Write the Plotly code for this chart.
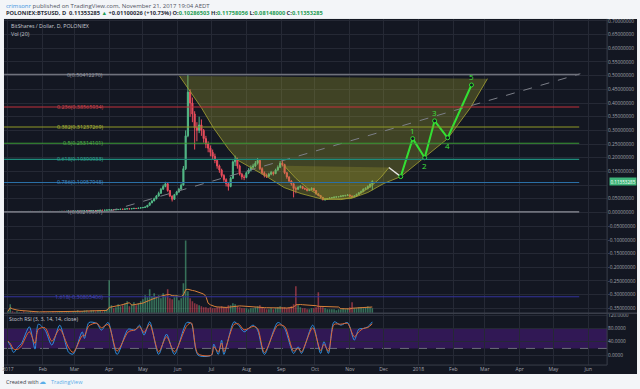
import pandas as pd
import plotly.graph_objects as go

W, H = 640, 389
BASE = pd.Timestamp('2017-01-01')

# ---------------- data ----------------
candle_dates = pd.date_range('2017-01-01', periods=163, freq='2D')
first_open = 0.0034
close = [
 0.0035,0.0036,0.0034,0.0033,0.0035,0.0036,0.0035,0.0034,0.0035,0.0036,
 0.0037,0.0036,0.0035,0.0036,0.0037,0.0038,0.0036,0.0035,0.0036,0.0037,
 0.0036,0.0035,0.0036,0.0038,0.0040,0.0039,0.0041,0.0043,0.0042,0.0044,
 0.0046,0.0048,0.0047,0.0050,0.0055,0.0060,0.0058,0.0065,0.0072,0.0068,
 0.0075,0.0082,0.0078,0.0085,0.0090,0.0095,0.0100,0.0096,0.0105,0.0110,
 0.0120,0.0115,0.0125,0.0135,0.0130,0.0140,0.0150,0.0145,0.0160,0.0170,
 0.0180,0.0200,0.0260,0.0350,0.0420,0.0500,0.0600,0.0700,0.0850,0.0950,
 0.1050,0.0800,0.0600,0.0480,0.0650,0.0750,0.0850,0.1000,0.1600,0.2800,
 0.4400,0.4000,0.3600,0.3100,0.3000,0.3200,0.3000,0.2700,0.2500,0.2350,
 0.2200,0.2050,0.1900,0.1700,0.1550,0.1350,0.1200,0.1050,0.0950,0.1250,
 0.1850,0.1950,0.1700,0.1400,0.1300,0.1280,0.1450,0.1550,0.1650,0.1700,
 0.1800,0.1900,0.1600,0.1450,0.1350,0.1320,0.1400,0.1460,0.1420,0.1550,
 0.1650,0.1800,0.1750,0.1450,0.1300,0.1150,0.1050,0.0880,0.0850,0.0920,
 0.0950,0.0880,0.0860,0.0800,0.0840,0.0880,0.0800,0.0680,0.0620,0.0550,
 0.0470,0.0480,0.0510,0.0530,0.0540,0.0560,0.0570,0.0580,0.0600,0.0610,
 0.0620,0.0640,0.0600,0.0580,0.0600,0.0660,0.0720,0.0760,0.0850,0.0880,
 0.0950,0.1029,0.11353285]
high = [
 0.0037,0.0038,0.0037,0.0035,0.0036,0.0038,0.0037,0.0036,0.0036,0.0037,
 0.0039,0.0038,0.0037,0.0037,0.0038,0.0040,0.0039,0.0037,0.0037,0.0038,
 0.0038,0.0037,0.0037,0.0039,0.0042,0.0041,0.0043,0.0045,0.0044,0.0046,
 0.0048,0.0050,0.0050,0.0052,0.0058,0.0064,0.0062,0.0068,0.0076,0.0074,
 0.0078,0.0086,0.0084,0.0088,0.0095,0.0102,0.0106,0.0103,0.0109,0.0116,
 0.0126,0.0123,0.0130,0.0142,0.0138,0.0146,0.0158,0.0154,0.0166,0.0178,
 0.0190,0.0212,0.0275,0.0370,0.0450,0.0540,0.0640,0.0760,0.0900,0.1020,
 0.1120,0.1080,0.0820,0.0620,0.0680,0.0790,0.0900,0.1060,0.1700,0.3000,
 0.5041,0.4500,0.4200,0.3700,0.3300,0.3500,0.3400,0.3050,0.2800,0.2600,
 0.2450,0.2300,0.2150,0.1950,0.1750,0.1600,0.1400,0.1250,0.1100,0.1300,
 0.1900,0.2080,0.2000,0.1750,0.1450,0.1380,0.1500,0.1620,0.1720,0.1780,
 0.1880,0.1990,0.1950,0.1650,0.1500,0.1420,0.1450,0.1520,0.1500,0.1600,
 0.1720,0.1880,0.1900,0.1780,0.1480,0.1320,0.1180,0.1070,0.0950,0.0960,
 0.1000,0.0970,0.0910,0.0880,0.0870,0.0920,0.0900,0.0820,0.0700,0.0640,
 0.0570,0.0510,0.0530,0.0550,0.0560,0.0580,0.0590,0.0600,0.0620,0.0640,
 0.0650,0.0670,0.0660,0.0620,0.0630,0.0690,0.0750,0.0800,0.0880,0.0920,
 0.0990,0.1060,0.11758056]
low = [
 0.0033,0.0034,0.0033,0.0031,0.0032,0.0034,0.0034,0.0033,0.0033,0.0034,
 0.0035,0.0035,0.0034,0.0034,0.0035,0.0036,0.0035,0.0034,0.0034,0.0035,
 0.0035,0.0034,0.0034,0.0035,0.0037,0.0038,0.0038,0.0040,0.0041,0.0041,
 0.0043,0.0045,0.0046,0.0046,0.0049,0.0054,0.0056,0.0057,0.0064,0.0066,
 0.0067,0.0074,0.0076,0.0077,0.0083,0.0088,0.0093,0.0094,0.0094,0.0103,
 0.0108,0.0112,0.0113,0.0123,0.0127,0.0128,0.0137,0.0142,0.0143,0.0157,
 0.0166,0.0176,0.0195,0.0255,0.0340,0.0410,0.0480,0.0580,0.0680,0.0830,
 0.0920,0.0760,0.0560,0.0400,0.0470,0.0630,0.0720,0.0830,0.0980,0.1550,
 0.2750,0.3500,0.3300,0.2300,0.2600,0.2900,0.2800,0.2550,0.2350,0.2200,
 0.2050,0.1950,0.1800,0.1600,0.1450,0.1280,0.1120,0.0950,0.0800,0.0920,
 0.1220,0.1700,0.1600,0.1350,0.1200,0.1180,0.1250,0.1400,0.1500,0.1600,
 0.1650,0.1750,0.1550,0.1380,0.1280,0.1260,0.1290,0.1360,0.1350,0.1400,
 0.1520,0.1620,0.1680,0.1400,0.1230,0.1100,0.0980,0.0550,0.0700,0.0820,
 0.0880,0.0850,0.0820,0.0770,0.0780,0.0820,0.0780,0.0650,0.0590,0.0520,
 0.0440,0.0430,0.0460,0.0490,0.0510,0.0520,0.0540,0.0550,0.0560,0.0580,
 0.0590,0.0600,0.0570,0.0540,0.0560,0.0580,0.0640,0.0700,0.0740,0.0820,
 0.0840,0.0900,0.08148]
volume = [
 2,9,2,1,2,1,1,2,1,1, 2,1,1,2,1,1,2,1,1,1, 2,1,1,2,2,1,2,2,1,2,
 2,3,2,2,3,3,2,3,3,2, 3,3,2,3,4,
 33,8,5,6,9,7,8,10,12,7, 9,11,8,10,12,
 14,18,16,24,17,20,16,18,15,20, 17,24,15,14,16,18,13,15,
 30,73,22,15,12,10,9,
 8,7,6,6,5,6,5,5,6,6, 7,6,6,8,8,10,9,7,6,5,
 5,5,4,5,5,6,7,8,6,5, 4,4,5,4,5,6,7,6,6,5,
 6,7,9,27,8,6,5,5,4,4, 5,5,6,21,7,6,5,4,4,4,
 4,3,4,4,5,4,5,6,11,5, 5,6,6,5,6,7,6,5]

stoch_dates = ['2017-01-01','2017-01-03','2017-01-06','2017-01-10','2017-01-13','2017-01-20',
 '2017-01-25','2017-01-28','2017-02-03','2017-02-09','2017-02-16','2017-02-24','2017-02-28',
 '2017-03-08','2017-03-10','2017-03-14','2017-03-21','2017-03-25','2017-03-31','2017-04-08',
 '2017-04-18','2017-04-24','2017-04-28','2017-05-02','2017-05-07','2017-05-15','2017-05-22',
 '2017-05-29','2017-06-09','2017-06-13','2017-06-19','2017-07-01','2017-07-03','2017-07-07',
 '2017-07-10','2017-07-12','2017-07-21','2017-07-25','2017-07-30','2017-08-07','2017-08-11',
 '2017-08-17','2017-08-29','2017-09-04','2017-09-12','2017-09-16','2017-09-19','2017-09-29',
 '2017-10-06','2017-10-09','2017-10-13','2017-10-18','2017-10-24','2017-10-30','2017-11-05',
 '2017-11-09','2017-11-13','2017-11-17','2017-11-21']
stoch_k = [40,30,8,25,35,85,18,93,75,30,90,8,3,70,50,98,95,75,98,2,78,75,90,60,100,2,63,2,
 98,95,0,0,33,2,45,2,100,90,70,90,75,2,98,80,5,25,5,90,5,40,5,100,90,98,45,78,80,85,100]
stoch_d = [42,35,18,18,28,70,35,78,82,42,78,22,8,58,58,88,96,82,92,12,70,76,85,68,92,10,55,
 10,88,97,4,0,25,10,36,10,92,94,76,86,80,8,90,86,12,20,10,82,14,32,12,92,93,95,55,70,80,83,94]

fib_ratios = ['0', '0.236', '0.382', '0.5', '0.618', '0.786', '1', '1.618']
fib_prices = [0.50412270, 0.38565934, 0.31237269, 0.25314101, 0.19390933,
              0.10957948, 0.00215951, -0.30805406]
fib_colors = ['#6f727c', '#c2303a', '#8f9a26', '#3b9a34', '#1f8c7c', '#2a6fa6', '#6f727c', '#33339a']
fib_text_colors = ['#9a9da6', '#d84a52', '#b4be3c', '#55b84c', '#30ac98', '#4290cc', '#9a9da6', '#4a4ac0']

# drawings (day offsets from 2017-01-01, prices)
cup_days = [152.5, 163.1, 172.0, 182.6, 195.9, 204.8, 216.3, 231.4, 245.6, 260.6, 281.0,
            305.0, 320.0, 334.2, 349.3, 369.7, 391.0, 411.3, 426.4]
cup_prices = [0.499, 0.434, 0.383, 0.310, 0.233, 0.190, 0.164, 0.128, 0.091, 0.069, 0.047,
              0.051, 0.073, 0.106, 0.131, 0.200, 0.270, 0.383, 0.489]
inner_days = [245.6, 251.0, 256.2, 266.8, 281.0, 296.0, 309.4, 322.7, 331.6, 338.7]
inner_prices = [0.171, 0.145, 0.124, 0.0875, 0.051, 0.047, 0.058, 0.095, 0.128, 0.164]
trend_days = [89.5, 509.0]
trend_prices = [0.004, 0.507]
pullback_days = [338.7, 349.3]
pullback_prices = [0.164, 0.131]
wave_days = [349.3, 359.9, 370.6, 379.4, 391.0, 412.2]
wave_prices = [0.131, 0.270, 0.200, 0.335, 0.273, 0.466]
wave_labels = ['', '1', '2', '3', '4', '5']
wave_label_side = [0, 1, -1, 1, -1, 1]

month_ticks = list(pd.date_range('2017-01-01', '2018-06-01', freq='MS'))
month_text = ['2017', 'Feb', 'Mar', 'Apr', 'May', 'Jun', 'Jul', 'Aug', 'Sep', 'Oct', 'Nov', 'Dec',
              '2018', 'Feb', 'Mar', 'Apr', 'May', 'Jun']
price_ticks = [-0.35, -0.30, -0.25, -0.20, -0.15, -0.10, -0.05, 0.0, 0.05, 0.10, 0.15, 0.20,
               0.25, 0.30, 0.35, 0.40, 0.45, 0.50, 0.55, 0.60, 0.65, 0.70]
stoch_ticks = [0, 40, 80, 120]
last_price = 0.11353285

# ---------------- helpers ----------------
def day(d):
    return BASE + pd.Timedelta(days=d)

def px(x):
    return x / W

def py(y):
    return 1 - y / H

GREEN = '#53b987'
RED = '#eb4d5c'
BG = '#131722'
GRID = '#252935'
AX = '#a3a6af'
FONT = 'Open Sans'

opens = [first_open] + close[:-1]
vol_colors = ['rgba(83,185,135,0.55)' if c >= o else 'rgba(235,77,92,0.55)'
              for o, c in zip(opens, close)]
vol_ma = pd.Series(volume).rolling(10, min_periods=1).mean()

# price labels: the last-price tag covers the 0.10 label, as in the reference
price_text = ['' if abs(t - 0.10) < 1e-9 else '%.8f' % t for t in price_ticks]

x_range = [day(-3.55), day(532.8)]

fig = go.Figure()

fig.add_trace(go.Candlestick(
    x=candle_dates, open=opens, high=high, low=low, close=close,
    increasing=dict(line=dict(color=GREEN, width=1), fillcolor=GREEN),
    decreasing=dict(line=dict(color=RED, width=1), fillcolor=RED),
    xaxis='x', yaxis='y', showlegend=False, hoverinfo='skip'))

# cups
fig.add_trace(go.Scatter(
    x=[day(d) for d in cup_days], y=cup_prices, mode='lines', fill='toself',
    fillcolor='rgba(170,168,45,0.30)', line=dict(color='rgba(160,158,50,0.85)', width=1),
    xaxis='x', yaxis='y', showlegend=False, hoverinfo='skip'))
fig.add_trace(go.Scatter(
    x=[day(d) for d in inner_days], y=inner_prices, mode='lines', fill='toself',
    fillcolor='rgba(170,168,45,0.26)', line=dict(color='rgba(160,158,50,0.85)', width=1),
    xaxis='x', yaxis='y', showlegend=False, hoverinfo='skip'))

# trend dashed line
fig.add_trace(go.Scatter(
    x=[day(d) for d in trend_days], y=trend_prices, mode='lines',
    line=dict(color='#7c7f88', width=1, dash='dash'),
    xaxis='x', yaxis='y', showlegend=False, hoverinfo='skip'))

# pullback + waves
fig.add_trace(go.Scatter(
    x=[day(d) for d in pullback_days], y=pullback_prices, mode='lines',
    line=dict(color='#e8e8e8', width=1.3),
    xaxis='x', yaxis='y', showlegend=False, hoverinfo='skip'))
fig.add_trace(go.Scatter(
    x=[day(d) for d in wave_days], y=wave_prices, mode='lines+markers',
    line=dict(color='#33e033', width=2),
    marker=dict(symbol='circle', size=4, color=BG, line=dict(color='#33e033', width=1)),
    xaxis='x', yaxis='y', showlegend=False, hoverinfo='skip'))

# volume
fig.add_trace(go.Bar(
    x=candle_dates, y=volume, marker=dict(color=vol_colors, line=dict(width=0)),
    xaxis='x', yaxis='y3', showlegend=False, hoverinfo='skip'))
fig.add_trace(go.Scatter(
    x=candle_dates, y=vol_ma, mode='lines', line=dict(color='#d9813a', width=1),
    xaxis='x', yaxis='y3', showlegend=False, hoverinfo='skip'))

# stoch rsi
fig.add_trace(go.Scatter(
    x=stoch_dates, y=stoch_k, mode='lines', line=dict(color='#2f8fe0', width=1, shape='spline', smoothing=0.8),
    xaxis='x2', yaxis='y2', showlegend=False, hoverinfo='skip'))
fig.add_trace(go.Scatter(
    x=stoch_dates, y=stoch_d, mode='lines', line=dict(color='#e2642e', width=1, shape='spline', smoothing=0.8),
    xaxis='x2', yaxis='y2', showlegend=False, hoverinfo='skip'))

shapes = []
# dark chart background
shapes.append(dict(type='rect', xref='paper', yref='paper', x0=px(2), x1=px(637),
                   y0=py(374), y1=py(18), fillcolor=BG, line=dict(width=0), layer='below'))
# fib lines
for p, c, r in zip(fib_prices, fib_colors, fib_ratios):
    shapes.append(dict(type='line', xref='x', yref='y', x0=day(-3.5), x1=day(508), y0=p, y1=p,
                       line=dict(color=c, width=1.6 if r in ('0', '1') else 1.1), layer='above'))
# stoch band
shapes.append(dict(type='rect', xref='x2 domain', yref='y2', x0=0, x1=1, y0=20, y1=80,
                   fillcolor='rgba(128,30,220,0.28)', line=dict(width=0), layer='below'))
for lv in (20, 80):
    shapes.append(dict(type='line', xref='x2 domain', yref='y2', x0=0, x1=1, y0=lv, y1=lv,
                       line=dict(color='#6a6d78', width=1, dash='dash'), layer='below'))
# pane separators
shapes.append(dict(type='line', xref='paper', yref='paper', x0=px(2), x1=px(637), y0=py(313), y1=py(313),
                   line=dict(color='#3a3e4a', width=1.5)))
shapes.append(dict(type='line', xref='paper', yref='paper', x0=px(607), x1=px(607), y0=py(365), y1=py(18),
                   line=dict(color='#3a3e4a', width=1)))
shapes.append(dict(type='line', xref='paper', yref='paper', x0=px(2), x1=px(607), y0=py(365), y1=py(365),
                   line=dict(color='#3a3e4a', width=1)))

ann = []
# header
ann.append(dict(xref='paper', yref='paper', x=px(2), y=py(5), xanchor='left', yanchor='middle',
                showarrow=False, font=dict(family=FONT, size=6, color='#50535e'),
                text='<span style="color:#3a94e0">crimsonr</span> published on TradingView.com, November 21, 2017 19:04 AEDT'))
G = '#1f9d55'
ann.append(dict(xref='paper', yref='paper', x=px(2), y=py(12.5), xanchor='left', yanchor='middle',
                showarrow=False, font=dict(family=FONT, size=5.7, color='#2a2e39'),
                text=('<b>POLONIEX:BTSUSD, D  0.11353285 <span style="color:%s">▲</span> +0.01100026 (+10.73%%) '
                      'O:<span style="color:%s">0.10286503</span> H:<span style="color:%s">0.11758056</span> '
                      'L:<span style="color:%s">0.08148000</span> C:<span style="color:%s">0.11353285</span></b>')
                % (G, G, G, G, G)))
# pane titles
ann.append(dict(xref='paper', yref='paper', x=px(7), y=py(25), xanchor='left', yanchor='middle',
                showarrow=False, font=dict(family=FONT, size=5.3, color='#c8cbd3'),
                text='BitShares / Dollar, D, POLONIEX'))
ann.append(dict(xref='paper', yref='paper', x=px(7), y=py(33), xanchor='left', yanchor='middle',
                showarrow=False, font=dict(family=FONT, size=5.3, color='#c8cbd3'), text='Vol (20)'))
ann.append(dict(xref='paper', yref='paper', x=px(5), y=py(319), xanchor='left', yanchor='middle',
                showarrow=False, font=dict(family=FONT, size=5.3, color='#c8cbd3'),
                text='Stoch RSI (3, 3, 14, 14, close)'))
# fib labels
for r, p, c in zip(fib_ratios, fib_prices, fib_text_colors):
    ann.append(dict(xref='paper', yref='y', x=px(103), y=p, xanchor='right', yanchor='middle',
                    showarrow=False, font=dict(family=FONT, size=5.4, color=c),
                    text='%s(%.8f)' % (r, p)))
# wave labels
for d, p, t, s in zip(wave_days, wave_prices, wave_labels, wave_label_side):
    if t:
        ann.append(dict(xref='x', yref='y', x=day(d), y=p, showarrow=False, yshift=8 * s,
                        font=dict(family=FONT, size=8, color='#3ee03e'), text=t))
# last price tag
ann.append(dict(xref='paper', yref='y', x=px(609), y=last_price, xanchor='left', yanchor='middle',
                showarrow=False, bgcolor='#3fb57a', borderpad=0.5,
                font=dict(family=FONT, size=4.6, color='#ffffff'), text='%.8f' % last_price))
# footer
ann.append(dict(xref='paper', yref='paper', x=px(2), y=py(382), xanchor='left', yanchor='middle',
                showarrow=False, font=dict(family=FONT, size=5.5, color='#3b3e48'), text='Created with'))
ann.append(dict(xref='paper', yref='paper', x=px(35), y=py(381.5), xanchor='left', yanchor='middle',
                showarrow=False, font=dict(family='DejaVu Sans', size=7, color='#5aaee8'), text='☁'))
ann.append(dict(xref='paper', yref='paper', x=px(47), y=py(382), xanchor='left', yanchor='middle',
                showarrow=False, font=dict(family=FONT, size=5.5, color='#5aaee8'), text='TradingView'))

axis_font = dict(family=FONT, size=4.8, color=AX)

fig.update_layout(
    width=W, height=H, margin=dict(l=0, r=0, t=0, b=0),
    paper_bgcolor='#f3f5f8', plot_bgcolor=BG,
    shapes=shapes, annotations=ann, showlegend=False, bargap=0.3,
    xaxis=dict(domain=[px(2), px(607)], range=x_range, type='date', anchor='y',
               tickvals=month_ticks, ticktext=month_text, showticklabels=False,
               showgrid=True, gridcolor=GRID, gridwidth=1, zeroline=False,
               rangeslider=dict(visible=False), showline=False, fixedrange=True),
    xaxis2=dict(domain=[px(2), px(607)], range=x_range, type='date', anchor='y2', matches='x',
                tickvals=month_ticks, ticktext=month_text, showticklabels=True,
                tickfont=dict(family=FONT, size=5, color=AX),
                ticks='', ticklen=0, showgrid=True, gridcolor=GRID, zeroline=False, showline=False),
    yaxis=dict(domain=[py(313), py(18)], range=[-0.3682, 0.7073], side='right', anchor='x',
               tickvals=price_ticks, ticktext=price_text, tickfont=axis_font, ticks='', ticklen=0,
               showgrid=True, gridcolor=GRID, zeroline=False, showline=False),
    yaxis3=dict(domain=[py(313), py(18)], range=[0, 295], overlaying='y', anchor='x', visible=False),
    yaxis2=dict(domain=[py(365), py(313)], range=[-30, 126], side='right', anchor='x2',
                tickvals=stoch_ticks, tickformat='.4f', tickfont=axis_font, ticks='', ticklen=0,
                showgrid=True, gridcolor=GRID, zeroline=False, showline=False),
)

fig.write_html('out.html', config={'displayModeBar': False},
               post_script="document.body.style.margin='0';document.body.style.padding='0';")
